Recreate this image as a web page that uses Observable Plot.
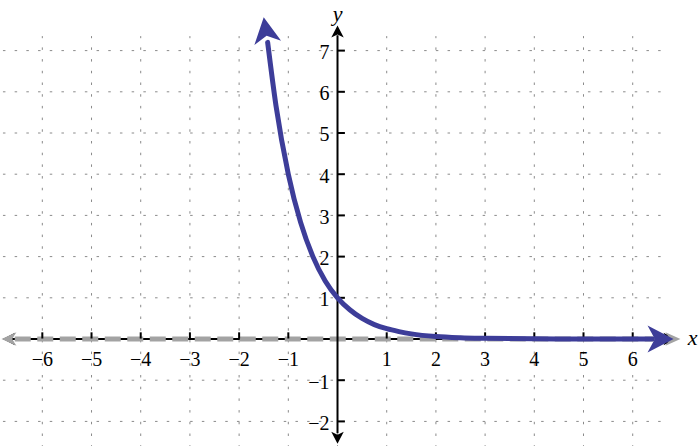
<!DOCTYPE html>
<html><head><meta charset="utf-8">
<script src="https://cdn.jsdelivr.net/npm/d3@7"></script>
<script src="https://cdn.jsdelivr.net/npm/@observablehq/plot@0.6"></script>
<style>
html,body{margin:0;padding:0;background:#fff;}
svg{display:block}
svg text{font-family:"Liberation Serif","Times New Roman","DejaVu Serif",serif !important;}
</style>
</head><body><div id="chart"></div>
<script>
// Curve values
const curveX = [-1.42, -1.25, -1, -0.75, -0.5, -0.25, 0, 0.25, 0.5, 0.75, 1, 1.25, 1.5, 2, 2.5, 3, 4, 5, 6.4];
const curveY = [7.2, 5.66, 4, 2.83, 2, 1.41, 1, 0.71, 0.5, 0.35, 0.25, 0.18, 0.125, 0.06, 0.03, 0.016, 0.004, 0.001, 0];
const curveTipTop = [-1.50, 7.81];
const curveTipRight = [6.83, 0];

// Ticks
const xTicks = [-6, -5, -4, -3, -2, -1, 1, 2, 3, 4, 5, 6];
const xTickLabels = ["−6", "−5", "−4", "−3", "−2", "−1", "1", "2", "3", "4", "5", "6"];
const yTicks = [-2, -1, 1, 2, 3, 4, 5, 6, 7];
const yTickLabels = ["−2", "−1", "1", "2", "3", "4", "5", "6", "7"];

// Grid
const gridX = [-6, -5, -4, -3, -2, -1, 0, 1, 2, 3, 4, 5, 6];
const gridY = [-2, -1, 0, 1, 2, 3, 4, 5, 6, 7];
const gridXExtent = [-6.79, 6.73];
const gridYExtent = [-2.65, 7.34];

// Axes and asymptote extents
const xAxisLine = [-6.6, 6.65];
const xAxisTips = [-6.8, 6.87];
const yAxisLine = [-2.3, 7.36];
const yAxisTips = [-2.54, 7.61];
const asymLine = [-6.55, 6.7];
const asymTips = [-6.83, 6.97];

const xDomain = [-6.85, 7.378];
const yDomain = [-2.609, 8.216];
const W = 700, H = 446;

const BLUE = "#3d3d99";
const GRAY = "#a3a3a3";
const FONT = "Liberation Serif";

const sx = d3.scaleLinear().domain(xDomain).range([0, W]);
const sy = d3.scaleLinear().domain(yDomain).range([H, 0]);

function arrowSymbol(angle, halfW, notch) {
  return {
    draw(ctx, size) {
      const r = Math.sqrt(size / Math.PI);
      const c = Math.cos(angle), s = Math.sin(angle);
      const pts = [[0, 0], [-r, -halfW * r], [-notch * r, 0], [-r, halfW * r]];
      const t = pts.map(([a, b]) => [a * c - b * s, a * s + b * c]);
      ctx.moveTo(t[0][0], t[0][1]);
      for (let k = 1; k < t.length; k++) ctx.lineTo(t[k][0], t[k][1]);
      ctx.closePath();
    }
  };
}
function angleBetween(p0, p1) {
  return Math.atan2(sy(p1[1]) - sy(p0[1]), sx(p1[0]) - sx(p0[0]));
}
function arrowDot(tip, from, r, color, halfW, notch) {
  return Plot.dot([tip], {x: d => d[0], y: d => d[1], r, fill: color, stroke: "none",
    symbol: arrowSymbol(angleBetween(from, tip), halfW, notch)});
}

const curve = curveX.map((x, i) => ({x, y: curveY[i]}));
const n = curveX.length;
const txt = {fontFamily: FONT, fontSize: 20, fill: "#000"};

const chart = Plot.plot({
  width: W, height: H, margin: 0,
  x: {domain: xDomain, axis: null},
  y: {domain: yDomain, axis: null},
  style: {background: "#fff"},
  marks: [
    // dotted grid
    Plot.ruleX(gridX, {x: d => d, y1: gridYExtent[0], y2: gridYExtent[1], stroke: "#8a8a8a", strokeWidth: 1, strokeDasharray: "2.5,9.2"}),
    Plot.ruleY(gridY, {y: d => d, x1: gridXExtent[0], x2: gridXExtent[1], stroke: "#8a8a8a", strokeWidth: 1, strokeDasharray: "2.5,9.2"}),
    // x axis (black)
    Plot.ruleY([0], {x1: xAxisLine[0], x2: xAxisLine[1], stroke: "#000", strokeWidth: 2}),
    arrowDot([xAxisTips[1], 0], [0, 0], 12, "#000", 0.52, 0.75),
    arrowDot([xAxisTips[0], 0], [0, 0], 12, "#000", 0.52, 0.75),
    // asymptote (gray dashed)
    Plot.ruleY([0], {x1: asymLine[0], x2: asymLine[1], stroke: GRAY, strokeWidth: 5, strokeDasharray: "16,6.5"}),
    arrowDot([asymTips[0], 0], [0, 0], 15, GRAY, 0.45, 0.7),
    arrowDot([asymTips[1], 0], [0, 0], 15, GRAY, 0.45, 0.7),
    // y axis (black)
    Plot.ruleX([0], {y1: yAxisLine[0], y2: yAxisLine[1], stroke: "#000", strokeWidth: 2}),
    arrowDot([0, yAxisTips[1]], [0, 0], 12, "#000", 0.52, 0.75),
    arrowDot([0, yAxisTips[0]], [0, 0], 12, "#000", 0.52, 0.75),
    // ticks
    Plot.ruleX(xTicks, {x: d => d, y1: 0, y2: 0.15, stroke: "#000", strokeWidth: 2}),
    Plot.ruleY(yTicks, {y: d => d, x1: 0, x2: 0.16, stroke: "#000", strokeWidth: 2}),
    // curve
    Plot.line(curve, {x: "x", y: "y", stroke: BLUE, strokeWidth: 5, curve: "monotone-x"}),
    arrowDot(curveTipTop, [curveX[0], curveY[0]], 26, BLUE, 0.52, 0.72),
    arrowDot(curveTipRight, [curveX[n - 1] - 1, 0], 26, BLUE, 0.52, 0.72),
    // tick labels
    Plot.text(xTicks, {...txt, x: d => d, y: 0, text: (d, i) => xTickLabels[i], dy: 21}),
    Plot.text(yTicks, {...txt, x: 0, y: d => d, text: (d, i) => yTickLabels[i], dx: -8, dy: 2, textAnchor: "end"}),
    // axis names
    Plot.text(["y"], {...txt, x: 0, y: 7.9, text: d => d, fontSize: 22, fontStyle: "italic"}),
    Plot.text(["x"], {...txt, x: 7.22, y: 0, text: d => d, fontSize: 22, fontStyle: "italic", dy: -1})
  ]
});
// make sure the serif face is used on every text element
d3.select(chart).selectAll("text").style("font-family", "'Liberation Serif'");
document.getElementById("chart").appendChild(chart);
</script>
</body></html>
